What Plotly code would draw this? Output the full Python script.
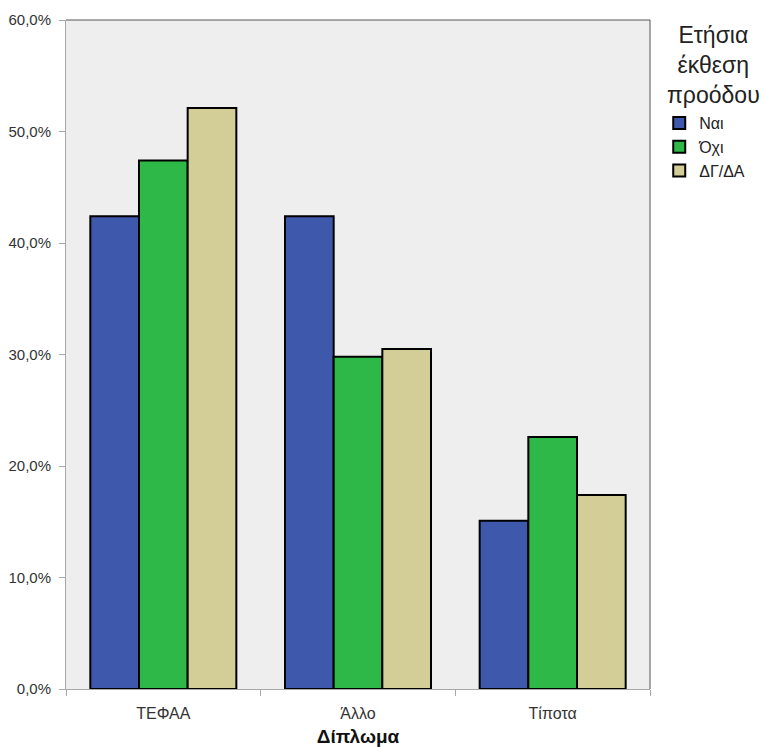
import plotly.graph_objects as go

categories = ["ΤΕΦΑΑ", "Άλλο", "Τίποτα"]
series_names = ["Ναι", "Όχι", "ΔΓ/ΔΑ"]
nai = [42.4, 42.4, 15.1]
oxi = [47.4, 29.8, 22.6]
dgda = [52.1, 30.5, 17.4]
colors = ["#3e58ac", "#2eb848", "#d3ce97"]
y_ticks = [0, 10, 20, 30, 40, 50, 60]
y_tick_labels = ["0,0%", "10,0%", "20,0%", "30,0%", "40,0%", "50,0%", "60,0%"]
legend_title = "Ετήσια<br>έκθεση<br>προόδου"

fig = go.Figure()
for name, vals, col in zip(series_names, [nai, oxi, dgda], colors):
    fig.add_trace(go.Bar(
        x=categories, y=vals, name=name,
        marker=dict(color=col, line=dict(color="black", width=2)),
    ))

fig.update_layout(
    width=763, height=747,
    margin=dict(l=66, r=113, t=20, b=58),
    paper_bgcolor="white",
    plot_bgcolor="#eeeeee",
    barmode="group",
    bargap=0.25,
    bargroupgap=0,
    separators=",.",
    font=dict(family="Liberation Sans, Arial, sans-serif", color="#222222"),
    showlegend=True,
    legend=dict(
        xref="container", yref="container",
        x=0.864, xanchor="left", y=0.858, yanchor="top",
        font=dict(size=16, color="#222222"),
        itemwidth=30,
        tracegroupgap=0,
        bgcolor="rgba(0,0,0,0)",
    ),
    xaxis=dict(
        automargin=False,
        showline=True, linecolor="#a8a8a8", linewidth=1,
        mirror=False,
        tickson="boundaries",
        ticks="outside", ticklen=6, tickcolor="#a8a8a8",
        tickfont=dict(size=16, color="#333333"),
        ticklabelstandoff=10,
        title=dict(text="<b>Δίπλωμα</b>", font=dict(size=19, color="#111111"), standoff=9),
        showgrid=False,
    ),
    yaxis=dict(
        automargin=False,
        range=[0, 60],
        tickvals=y_ticks,
        ticktext=y_tick_labels,
        showline=True, linecolor="#a8a8a8", linewidth=1,
        ticks="outside", ticklen=6, tickcolor="#a8a8a8",
        tickfont=dict(size=15, color="#333333"),
        ticklabelstandoff=5,
        showgrid=False, zeroline=False,
    ),
)
fig.add_annotation(
    text=legend_title, xref="paper", yref="paper",
    x=1.108, y=1.0, xanchor="center", yanchor="top", align="center",
    showarrow=False, font=dict(size=23, color="#222222"),
)
# darker top/right frame
fig.add_shape(type="line", xref="paper", yref="paper", x0=0, x1=1, y0=1, y1=1,
              line=dict(color="#555555", width=1))
fig.add_shape(type="line", xref="paper", yref="paper", x0=1, x1=1, y0=0, y1=1,
              line=dict(color="#555555", width=1))

fig.write_html("out.html", config={"displayModeBar": False},
               post_script=["document.body.style.margin='0';"])
